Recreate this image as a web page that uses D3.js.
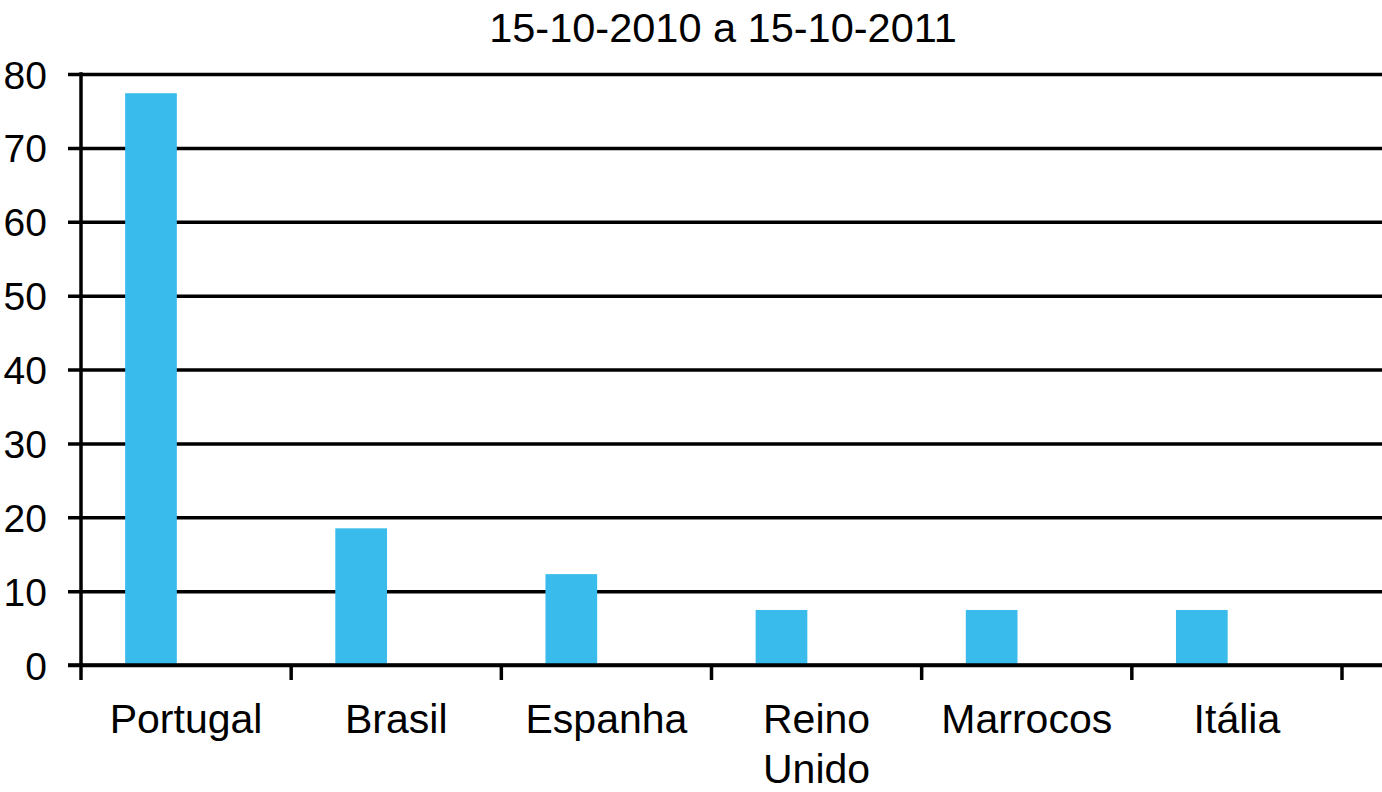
<!DOCTYPE html>
<html>
<head>
<meta charset="utf-8">
<script src="https://cdn.jsdelivr.net/npm/d3@7"></script>
<style>
  body { margin: 0; background: #fff; }
  svg { display: block; font-family: "Liberation Sans", Arial, Helvetica, sans-serif; }
  .grid line { stroke: #000; stroke-width: 3.5; }
  .grid text { font-size: 39px; fill: #000; }
</style>
</head>
<body>
<svg width="1382" height="792"></svg>
<script>
const title = "15-10-2010 a 15-10-2011";
const categories = ["Portugal", "Brasil", "Espanha", "Reino Unido", "Marrocos", "Itália"];
const values = [77.4, 18.5, 12.3, 7.45, 7.45, 7.45];
const yTicks = [0, 10, 20, 30, 40, 50, 60, 70, 80];

const svg = d3.select("svg"),
      W = +svg.attr("width"),
      plotLeft = 81, plotRight = 1342, plotTop = 74, plotBottom = 665;

const x = d3.scaleBand().domain(categories).range([plotLeft, plotRight]);
const y = d3.scaleLinear().domain([0, 80]).range([plotBottom, plotTop]);

// title
svg.append("text")
  .attr("x", 723).attr("y", 42)
  .attr("text-anchor", "middle")
  .style("font-size", "41.5px")
  .text(title);

// horizontal gridlines + y labels
const gridX = 68;
svg.append("g")
  .attr("class", "grid")
  .attr("transform", `translate(${gridX},0)`)
  .call(d3.axisLeft(y).tickValues(yTicks).tickSize(-(W - gridX)).tickPadding(21))
  .call(g => g.select(".domain").remove())
  .call(g => g.selectAll("text").attr("dy", "0.36em"));

// bars
const bw = x.bandwidth();
svg.append("g").selectAll("rect")
  .data(categories.map((c, i) => ({c, v: values[i]})))
  .join("rect")
  .attr("x", d => x(d.c) + bw * 0.21)
  .attr("width", bw * 0.246)
  .attr("y", d => y(d.v))
  .attr("height", d => y(0) - y(d.v))
  .attr("fill", "#39bcec");

// baseline over bars
svg.append("line")
  .attr("x1", gridX).attr("x2", W)
  .attr("y1", y(0)).attr("y2", y(0))
  .attr("stroke", "#000").attr("stroke-width", 3.5);

// vertical axis
svg.append("line")
  .attr("x1", plotLeft).attr("x2", plotLeft)
  .attr("y1", y(80) - 1.75).attr("y2", plotBottom + 15)
  .attr("stroke", "#000").attr("stroke-width", 3.5);

// category boundary ticks
const bounds = categories.map(c => x(c)).concat([x.range()[1]]);
svg.append("g").selectAll("line")
  .data(bounds.slice(1))
  .join("line")
  .attr("x1", d => d).attr("x2", d => d)
  .attr("y1", plotBottom).attr("y2", plotBottom + 15)
  .attr("stroke", "#000").attr("stroke-width", 3.5);

// category labels
const labels = svg.append("g").selectAll("text")
  .data(categories)
  .join("text")
  .attr("x", d => x(d) + bw / 2)
  .attr("y", 733)
  .attr("text-anchor", "middle")
  .style("font-size", "41px");

labels.each(function(d) {
  const words = d === "Reino Unido" ? ["Reino", "Unido"] : [d];
  const t = d3.select(this);
  words.forEach((w, i) => {
    t.append("tspan")
      .attr("x", x(d) + bw / 2)
      .attr("dy", i === 0 ? 0 : 50)
      .text(w);
  });
});
</script>
</body>
</html>
